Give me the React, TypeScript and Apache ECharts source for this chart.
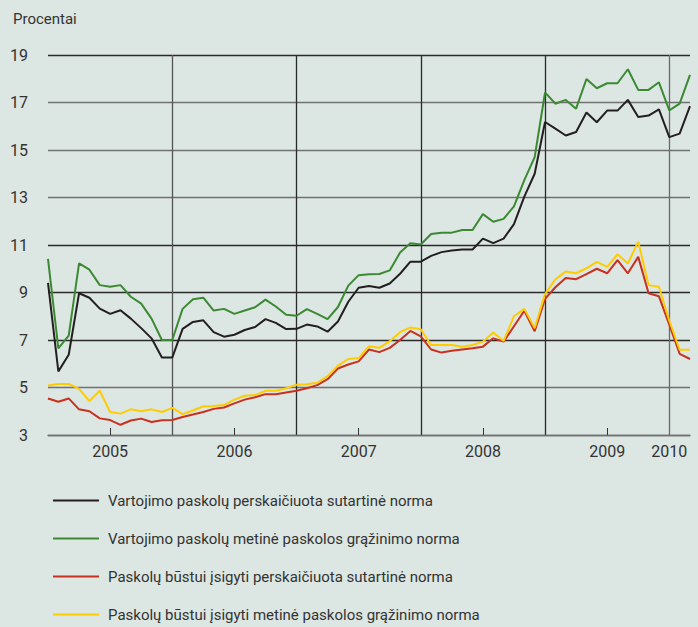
import React, { useEffect, useRef } from "react";
import * as echarts from "echarts";

const months: string[] = [];
for (let y = 2005; y <= 2010; y++) {
  for (let m = 1; m <= 12; m++) {
    if (y === 2010 && m > 3) break;
    months.push(`${y}-${m < 10 ? "0" + m : m}`);
  }
}

const seriesNames = [
  "Vartojimo paskolų perskaičiuota sutartinė norma",
  "Vartojimo paskolų metinė paskolos grąžinimo norma",
  "Paskolų būstui įsigyti perskaičiuota sutartinė norma",
  "Paskolų būstui įsigyti metinė paskolos grąžinimo norma",
];

const consumerContract = [
  9.41, 5.68, 6.38, 8.97, 8.78, 8.32, 8.1, 8.25, 7.9, 7.5, 7.07, 6.26,
  6.26, 7.47, 7.76, 7.83, 7.33, 7.14, 7.22, 7.42, 7.55, 7.88, 7.72, 7.46,
  7.47, 7.65, 7.57, 7.35, 7.78, 8.61, 9.2, 9.27, 9.2, 9.38, 9.79, 10.3,
  10.3, 10.54, 10.7, 10.77, 10.81, 10.81, 11.27, 11.08, 11.27, 11.88, 13.04, 14.0,
  16.18, 15.9, 15.61, 15.76, 16.58, 16.17, 16.66, 16.66, 17.11, 16.39, 16.45, 16.71,
  15.54, 15.69, 16.85,
];

const consumerAnnual = [
  10.42, 6.65, 7.18, 10.23, 9.96, 9.31, 9.24, 9.31, 8.82, 8.53, 7.9, 7.0,
  7.0, 8.31, 8.72, 8.78, 8.24, 8.31, 8.1, 8.24, 8.38, 8.7, 8.41, 8.06,
  8.02, 8.3, 8.1, 7.88, 8.39, 9.29, 9.73, 9.77, 9.78, 9.93, 10.68, 11.07,
  11.02, 11.46, 11.52, 11.52, 11.63, 11.63, 12.3, 11.98, 12.1, 12.63, 13.73, 14.7,
  17.42, 16.95, 17.11, 16.74, 17.99, 17.6, 17.81, 17.81, 18.4, 17.53, 17.53, 17.85,
  16.67, 16.95, 18.16,
];

const housingContract = [
  4.54, 4.4, 4.54, 4.08, 4.0, 3.7, 3.63, 3.43, 3.61, 3.69, 3.55, 3.62,
  3.63, 3.76, 3.86, 3.97, 4.1, 4.16, 4.33, 4.49, 4.59, 4.72, 4.72, 4.79,
  4.86, 4.97, 5.1, 5.35, 5.8, 5.97, 6.1, 6.6, 6.49, 6.67, 7.0, 7.38,
  7.15, 6.6, 6.47, 6.55, 6.6, 6.65, 6.72, 7.07, 6.93, 7.58, 8.23, 7.37,
  8.73, 9.22, 9.61, 9.56, 9.77, 10.0, 9.81, 10.36, 9.81, 10.5, 8.97, 8.84,
  7.65, 6.42, 6.2,
];

const housingAnnual = [
  5.08, 5.15, 5.15, 4.94, 4.43, 4.87, 3.97, 3.9, 4.08, 4.0, 4.08, 3.97,
  4.14, 3.88, 4.03, 4.21, 4.22, 4.26, 4.49, 4.65, 4.68, 4.86, 4.86, 4.97,
  5.12, 5.14, 5.2, 5.48, 5.92, 6.2, 6.24, 6.74, 6.67, 6.95, 7.33, 7.53,
  7.45, 6.79, 6.79, 6.79, 6.72, 6.79, 6.93, 7.32, 6.96, 8.0, 8.31, 7.5,
  8.93, 9.56, 9.88, 9.81, 10.02, 10.29, 10.08, 10.61, 10.22, 11.14, 9.31, 9.24,
  7.81, 6.59, 6.59,
];

const seriesColors = ["#231f20", "#3b8a33", "#c8301f", "#ffcc00"];
const FONT = "Roboto, 'Noto Sans', sans-serif";

export default function App() {
  const ref = useRef<HTMLDivElement>(null);
  useEffect(() => {
    if (!ref.current) return;
    const chart = echarts.init(ref.current, null, { renderer: "svg" });
    const dataSets = [consumerContract, consumerAnnual, housingContract, housingAnnual];
    chart.setOption({
      animation: false,
      backgroundColor: "#dce6e2",
      textStyle: { fontFamily: FONT },
      title: {
        text: "Procentai",
        left: 8,
        top: 6,
        textStyle: { fontFamily: FONT, fontSize: 15, fontWeight: "normal", color: "#333" },
      },
      grid: { left: 48, right: 8, top: 55, bottom: 192, containLabel: false },
      legend: {
        orient: "vertical",
        left: 48,
        top: 488,
        itemWidth: 46,
        itemHeight: 2,
        itemGap: 23,
        icon: "rect",
        data: seriesNames,
        textStyle: { fontFamily: FONT, fontSize: 15, color: "#333", padding: [0, 0, 0, 4] },
      },
      xAxis: {
        type: "category",
        boundaryGap: false,
        data: months,
        axisLine: { show: true, lineStyle: { color: "#707070", width: 1.4 } },
        axisTick: {
          show: true,
          inside: true,
          length: 7,
          interval: (i: number) => i % 12 === 6,
          lineStyle: { color: "#333" },
        },
        axisLabel: {
          interval: (i: number) => i % 12 === 6 || i === 60,
          formatter: (v: string) => v.slice(0, 4),
          fontFamily: FONT,
          fontSize: 16,
          color: "#333",
          margin: 8,
        },
        splitLine: {
          show: true,
          interval: (i: number) => i > 0 && i % 12 === 0,
          lineStyle: { color: ["#555", "#2a2a2a", "#2a2a2a", "#2a2a2a", "#6a6a6a"], width: 1.3 },
        },
      },
      yAxis: {
        type: "value",
        min: 3,
        max: 19,
        interval: 2,
        axisLine: { show: false },
        axisTick: { show: false },
        axisLabel: { fontFamily: FONT, fontSize: 16, color: "#333", margin: 20 },
        splitLine: {
          lineStyle: {
            color: ["#707070", "#707070", "#2a2a2a", "#2a2a2a", "#2a2a2a", "#707070", "#707070", "#707070", "#2a2a2a"],
            width: 1.4,
          },
        },
      },
      series: seriesNames.map((name, k) => ({
        name,
        type: "line",
        data: dataSets[k],
        symbol: "none",
        color: seriesColors[k],
        lineStyle: { color: seriesColors[k], width: 2 },
      })),
    });
    return () => chart.dispose();
  }, []);
  return (
    <div
      ref={ref}
      style={{ position: "fixed", left: 0, top: 0, width: 698, height: 627 }}
    />
  );
}
